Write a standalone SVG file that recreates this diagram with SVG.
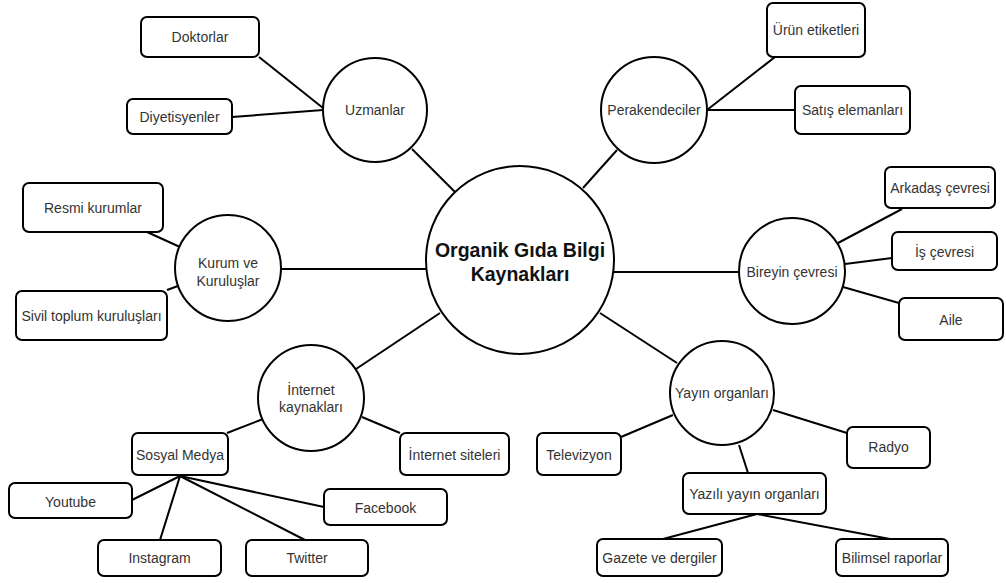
<svg xmlns="http://www.w3.org/2000/svg" width="1006" height="583" viewBox="0 0 1006 583">
<style>
.n{fill:#fff;stroke:#000;stroke-width:2}
.t{font-family:"Liberation Sans",Arial,sans-serif;font-size:14px;fill:#333;text-anchor:middle;dominant-baseline:central}
.m{font-family:"Liberation Sans",Arial,sans-serif;font-size:19.5px;font-weight:bold;fill:#111;text-anchor:middle;dominant-baseline:central}
.c line{stroke:#000;stroke-width:2}
</style>
<rect width="1006" height="583" fill="#fff"/>
<g class="c" id="connectors">
<line x1="259" y1="57" x2="323" y2="108"/>
<line x1="232" y1="117" x2="323" y2="110"/>
<line x1="412" y1="149" x2="455" y2="192"/>
<line x1="707" y1="110" x2="775" y2="57"/>
<line x1="707" y1="110" x2="795" y2="110"/>
<line x1="617" y1="150" x2="583" y2="188"/>
<line x1="147" y1="232" x2="180" y2="247"/>
<line x1="167" y1="290" x2="178" y2="286"/>
<line x1="281" y1="269" x2="427" y2="269"/>
<line x1="613" y1="272" x2="740" y2="272"/>
<line x1="838" y1="243" x2="902" y2="209"/>
<line x1="845" y1="264" x2="892" y2="258"/>
<line x1="843" y1="287" x2="899" y2="303"/>
<line x1="440" y1="313" x2="356" y2="369"/>
<line x1="227" y1="433" x2="263" y2="419"/>
<line x1="362" y1="417" x2="400" y2="433"/>
<line x1="180" y1="476" x2="132" y2="500"/>
<line x1="180" y1="476" x2="160" y2="540"/>
<line x1="180" y1="476" x2="305" y2="540"/>
<line x1="180" y1="476" x2="324" y2="507"/>
<line x1="600" y1="313" x2="677" y2="363"/>
<line x1="621" y1="437" x2="673" y2="415"/>
<line x1="773" y1="410" x2="847" y2="433"/>
<line x1="739" y1="445" x2="748" y2="473"/>
<line x1="757" y1="514" x2="663" y2="539"/>
<line x1="757" y1="514" x2="890" y2="539"/>
</g>
<g id="center"><circle class="n" cx="520" cy="260" r="94"/><text class="m" x="520" y="250">Organik Gıda Bilgi</text><text class="m" x="520" y="274">Kaynakları</text></g>
<g id="uzmanlar"><circle class="n" cx="375" cy="110" r="52"/><text class="t" x="375" y="110">Uzmanlar</text></g>
<g id="doktorlar"><rect class="n" x="141" y="17" width="118" height="40" rx="6"/><text class="t" x="200" y="37">Doktorlar</text></g>
<g id="diyetisyenler"><rect class="n" x="127" y="99" width="105" height="35" rx="6"/><text class="t" x="179.5" y="117">Diyetisyenler</text></g>
<g id="perakendeciler"><circle class="n" cx="654" cy="110" r="53"/><text class="t" x="654" y="110">Perakendeciler</text></g>
<g id="urun"><rect class="n" x="767" y="3" width="98" height="54" rx="6"/><text class="t" x="816" y="30">Ürün etiketleri</text></g>
<g id="satis"><rect class="n" x="795" y="86" width="115" height="48" rx="6"/><text class="t" x="852.5" y="110">Satış elemanları</text></g>
<g id="kurum"><circle class="n" cx="228" cy="268" r="53"/><text class="t" x="228" y="263">Kurum ve</text><text class="t" x="228" y="281">Kuruluşlar</text></g>
<g id="resmi"><rect class="n" x="23" y="183" width="140" height="49" rx="6"/><text class="t" x="93" y="208">Resmi kurumlar</text></g>
<g id="sivil"><rect class="n" x="16" y="291" width="151" height="49" rx="6"/><text class="t" x="91.5" y="316">Sivil toplum kuruluşları</text></g>
<g id="bireyin"><circle class="n" cx="792" cy="271" r="53"/><text class="t" x="792" y="272">Bireyin çevresi</text></g>
<g id="arkadas"><rect class="n" x="885" y="167" width="110" height="41" rx="6"/><text class="t" x="940" y="188">Arkadaş çevresi</text></g>
<g id="is"><rect class="n" x="892" y="232" width="105" height="38" rx="6"/><text class="t" x="944.5" y="252">İş çevresi</text></g>
<g id="aile"><rect class="n" x="899" y="298" width="104" height="42" rx="6"/><text class="t" x="951" y="320">Aile</text></g>
<g id="internet"><circle class="n" cx="311" cy="398" r="53"/><text class="t" x="311" y="390">İnternet</text><text class="t" x="311" y="407">kaynakları</text></g>
<g id="sosyal"><rect class="n" x="132" y="433" width="96" height="42" rx="6"/><text class="t" x="180" y="455">Sosyal Medya</text></g>
<g id="siteler"><rect class="n" x="400" y="433" width="109" height="42" rx="6"/><text class="t" x="454.5" y="455">İnternet siteleri</text></g>
<g id="youtube"><rect class="n" x="9" y="483" width="123" height="35" rx="6"/><text class="t" x="70.5" y="502">Youtube</text></g>
<g id="facebook"><rect class="n" x="324" y="489" width="123" height="36" rx="6"/><text class="t" x="385.5" y="508">Facebook</text></g>
<g id="instagram"><rect class="n" x="98" y="540" width="123" height="36" rx="6"/><text class="t" x="159.5" y="558">Instagram</text></g>
<g id="twitter"><rect class="n" x="246" y="540" width="122" height="36" rx="6"/><text class="t" x="307" y="558">Twitter</text></g>
<g id="yayin"><circle class="n" cx="722" cy="393" r="52"/><text class="t" x="722" y="393">Yayın organları</text></g>
<g id="televizyon"><rect class="n" x="537" y="433" width="84" height="42" rx="6"/><text class="t" x="579" y="455">Televizyon</text></g>
<g id="radyo"><rect class="n" x="847" y="427" width="83" height="41" rx="6"/><text class="t" x="888.5" y="447">Radyo</text></g>
<g id="yazili"><rect class="n" x="683" y="473" width="143" height="41" rx="6"/><text class="t" x="754.5" y="494">Yazılı yayın organları</text></g>
<g id="gazete"><rect class="n" x="597" y="539" width="125" height="37" rx="6"/><text class="t" x="659.5" y="558">Gazete ve dergiler</text></g>
<g id="bilimsel"><rect class="n" x="836" y="539" width="112" height="37" rx="6"/><text class="t" x="892" y="558">Bilimsel raporlar</text></g>
</svg>
